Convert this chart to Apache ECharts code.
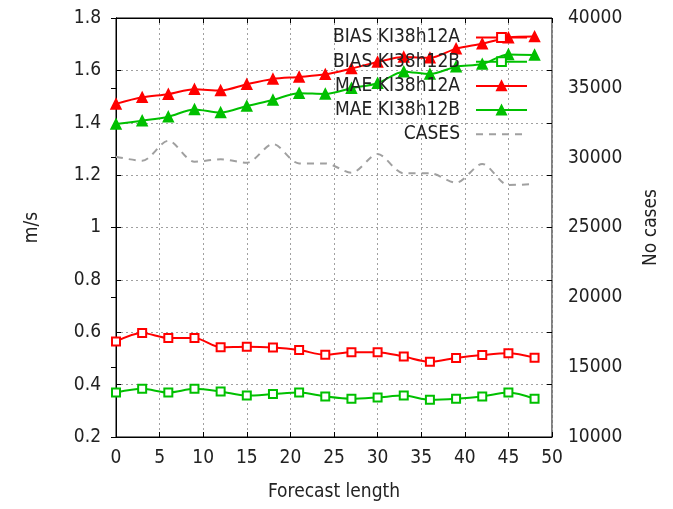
<!DOCTYPE html>
<html>
<head>
<meta charset="utf-8">
<script src="https://cdn.jsdelivr.net/npm/echarts@6/dist/echarts.min.js"></script>
<style>
  html, body {margin: 0; padding: 0; background: #fff;}
  #chart {width: 673px; height: 509px;}
</style>
</head>
<body>
<div id="chart"></div>
<script>
// forecast length (h)
const leadTimes = [0, 3, 6, 9, 12, 15, 18, 21, 24, 27, 30, 33, 36, 39, 42, 45, 48]

const biasA = [0.565, 0.597, 0.578, 0.578, 0.543, 0.545, 0.542, 0.532, 0.514, 0.524, 0.524, 0.507, 0.487, 0.502, 0.513, 0.520, 0.503]
const biasB = [0.370, 0.384, 0.370, 0.384, 0.374, 0.358, 0.364, 0.370, 0.355, 0.346, 0.351, 0.358, 0.342, 0.346, 0.355, 0.370, 0.346]
const maeA = [1.472, 1.497, 1.509, 1.528, 1.523, 1.547, 1.567, 1.575, 1.585, 1.607, 1.632, 1.651, 1.648, 1.683, 1.702, 1.725, 1.729]
const maeB = [1.395, 1.408, 1.423, 1.451, 1.439, 1.464, 1.487, 1.513, 1.510, 1.532, 1.551, 1.595, 1.586, 1.614, 1.624, 1.661, 1.659]
const cases = [30070, 29780, 31210, 29710, 29880, 29640, 30980, 29590, 29590, 28920, 30260, 28880, 28880, 28210, 29550, 28040, 28110]

const RED = '#ff0000'
const GREEN = '#00c000'
const GRAY = '#a0a0a0'
const FONT = "'DejaVu Sans Condensed', 'DejaVu Sans', sans-serif"
const TXT = '#222'
const FS = 19

const pairs = vals => vals.map((v, i) => [leadTimes[i], v])

const lineSeries = (name, vals, color, symbol) => ({
  name,
  type: 'line',
  yAxisIndex: 0,
  data: pairs(vals),
  smooth: 0.3,
  symbol,
  symbolSize: symbol === 'triangle' ? 10 : 8,
  lineStyle: {color, width: 2},
  itemStyle: {color, borderColor: color, borderWidth: 1.5},
  z: 3
})

const chart = echarts.init(document.getElementById('chart'))

chart.setOption({
  animation: false,
  textStyle: {fontFamily: FONT},
  grid: {left: 116, right: 121, top: 18, bottom: 72, show: true, borderColor: '#000', borderWidth: 1},
  legend: {
    orient: 'vertical',
    align: 'right',
    right: 145,
    top: 28,
    padding: 0,
    itemWidth: 51,
    itemHeight: 11,
    itemGap: 5.2,
    textStyle: {fontFamily: FONT, fontSize: FS, color: TXT, padding: [0, 11, 0, 0]},
    data: ['BIAS KI38h12A', 'BIAS KI38h12B', 'MAE KI38h12A', 'MAE KI38h12B',
      {name: 'CASES', itemStyle: {opacity: 0}}]
  },
  xAxis: [{
    type: 'value',
    min: 0, max: 50, interval: 5,
    name: 'Forecast length',
    nameLocation: 'middle',
    nameGap: 46,
    nameTextStyle: {fontFamily: FONT, fontSize: FS, color: TXT},
    axisLine: {show: true, lineStyle: {color: '#000'}},
    axisTick: {inside: true, length: 5, lineStyle: {color: '#000'}},
    axisLabel: {fontFamily: FONT, fontSize: FS, color: TXT, margin: 12},
    splitLine: {show: true, lineStyle: {color: GRAY, type: [2, 3], width: 1}}
  }, {
    type: 'value',
    position: 'top',
    min: 0, max: 50, interval: 5,
    axisLine: {show: true, lineStyle: {color: '#000'}},
    axisTick: {inside: true, length: 5, lineStyle: {color: '#000'}},
    axisLabel: {show: false},
    splitLine: {show: false}
  }],
  yAxis: [{
    type: 'value',
    min: 0.2, max: 1.8, interval: 0.2,
    name: 'm/s',
    nameLocation: 'middle',
    nameRotate: 90,
    nameGap: 74,
    nameTextStyle: {fontFamily: FONT, fontSize: FS, color: TXT},
    axisLine: {show: true, lineStyle: {color: '#000'}},
    axisTick: {show: true, inside: true, length: 5, lineStyle: {color: '#000'}},
    axisLabel: {fontFamily: FONT, fontSize: FS, color: TXT, margin: 15},
    splitLine: {show: true, lineStyle: {color: GRAY, type: [2, 3], width: 1}}
  }, {
    type: 'value',
    position: 'right',
    min: 10000, max: 40000, interval: 5000,
    name: 'No cases',
    nameLocation: 'middle',
    nameRotate: 90,
    nameGap: 90,
    nameTextStyle: {fontFamily: FONT, fontSize: FS, color: TXT},
    axisLine: {show: true, lineStyle: {color: '#000'}},
    axisTick: {show: true, inside: true, length: 5, lineStyle: {color: '#000'}},
    axisLabel: {fontFamily: FONT, fontSize: FS, color: TXT, margin: 16, formatter: v => String(v)},
    splitLine: {show: false}
  }, {
    // mirror of left ticks on the right side
    type: 'value',
    position: 'right',
    min: 0.2, max: 1.8, interval: 0.2,
    axisLine: {show: false},
    axisTick: {show: true, inside: true, length: 5, lineStyle: {color: '#000'}},
    axisLabel: {show: false},
    splitLine: {show: false}
  }],
  series: [
    lineSeries('BIAS KI38h12A', biasA, RED, 'emptyRect'),
    lineSeries('BIAS KI38h12B', biasB, GREEN, 'emptyRect'),
    lineSeries('MAE KI38h12A', maeA, RED, 'triangle'),
    lineSeries('MAE KI38h12B', maeB, GREEN, 'triangle'),
    {
      name: 'CASES',
      type: 'line',
      yAxisIndex: 1,
      data: pairs(cases),
      smooth: 0.3,
      symbol: 'none',
      lineStyle: {color: GRAY, width: 2, type: [7, 6]},
      itemStyle: {color: GRAY},
      z: 2
    }
  ]
})
</script>
</body>
</html>
